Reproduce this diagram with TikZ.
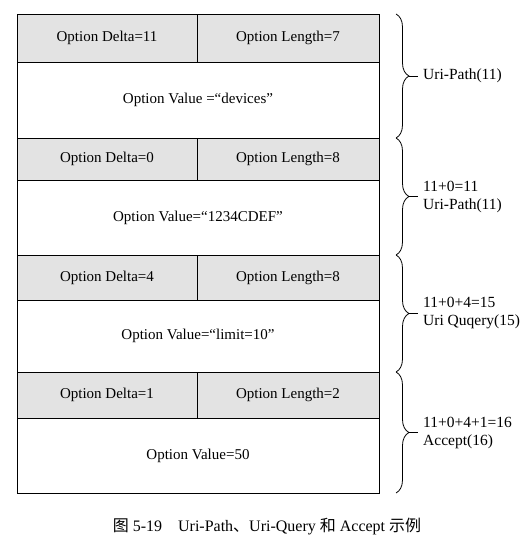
\documentclass[tikz,border=0pt]{standalone}
\usepackage{fontspec}
\setmainfont{Liberation Serif}
\newfontfamily\cjk{Noto Sans CJK SC}
\usetikzlibrary{decorations.pathreplacing}

\begin{document}
\begin{tikzpicture}[x=1pt, y=1pt,
		cell/.style={draw, line width=0.8pt, anchor=north west, inner sep=0pt, outer sep=0pt, font=\fontsize{15}{18}\selectfont},
		delta/.style={cell, fill=gray!22, minimum width=180pt, minimum height=#1},
		len/.style={cell, fill=gray!22, minimum width=182pt, minimum height=#1},
		val/.style={cell, fill=white, minimum width=362pt, minimum height=#1},
		brace/.style={decorate, decoration={brace, amplitude=13pt}, line width=0.8pt},
		lbl/.style={anchor=west, inner ysep=0pt, inner xsep=5pt, align=left, font=\fontsize{15.5}{18}\selectfont}]
				\useasboundingbox (0,0) rectangle (528,539);
				
				\node[delta=48] (d1) at (17,525) {Option Delta=11};
				\node[len=48] (n1) at (197,525) {Option Length=7};
				\node[val=76] (v1) at (17,477) {Option Value =“devices”};
				\node[delta=42] (d2) at (17,401) {Option Delta=0};
				\node[len=42] (n2) at (197,401) {Option Length=8};
				\node[val=75] (v2) at (17,359) {Option Value=“1234CDEF”};
				\node[delta=45] (d3) at (17,284) {Option Delta=4};
				\node[len=45] (n3) at (197,284) {Option Length=8};
				\node[val=72] (v3) at (17,239) {Option Value=“limit=10”};
				\node[delta=46] (d4) at (17,167) {Option Delta=1};
				\node[len=46] (n4) at (197,167) {Option Length=2};
				\node[val=75] (v4) at (17,121) {Option Value=50};
				
				\coordinate (b1) at (396,525);
				\coordinate (b2) at (396,401);
				\coordinate (b3) at (396,284);
				\coordinate (b4) at (396,167);
				\coordinate (b5) at (396,46);
				\coordinate (t1) at (409,463);
				\coordinate (t2) at (409,342.5);
				\coordinate (t3) at (409,225.5);
				\coordinate (t4) at (409,106.5);
				
				\node[lbl] (l1) at (418,463) {Uri-Path(11)};
				\node[lbl] (l2) at (418,342.5) {11+0=11\\Uri-Path(11)};
				\node[lbl] (l3) at (418,225.5) {11+0+4=15\\Uri Quqery(15)};
				\node[lbl] (l4) at (418,106.5) {11+0+4+1=16\\Accept(16)};
				
				\draw [brace] (b1) to (b2);
				\draw [brace] (b2) to (b3);
				\draw [brace] (b3) to (b4);
				\draw [brace] (b4) to (b5);
				\draw [-, line width=0.8pt] (t1) to (l1.west);
				\draw [-, line width=0.8pt] (t2) to (l2.west);
				\draw [-, line width=0.8pt] (t3) to (l3.west);
				\draw [-, line width=0.8pt] (t4) to (l4.west);
				
				\node[font=\fontsize{16}{18}\selectfont] (cap) at (267,12) {{\cjk 图} 5-19\quad Uri-Path{\cjk 、}Uri-Query {\cjk 和} Accept {\cjk 示例}};
				\end{tikzpicture}
\end{document}
